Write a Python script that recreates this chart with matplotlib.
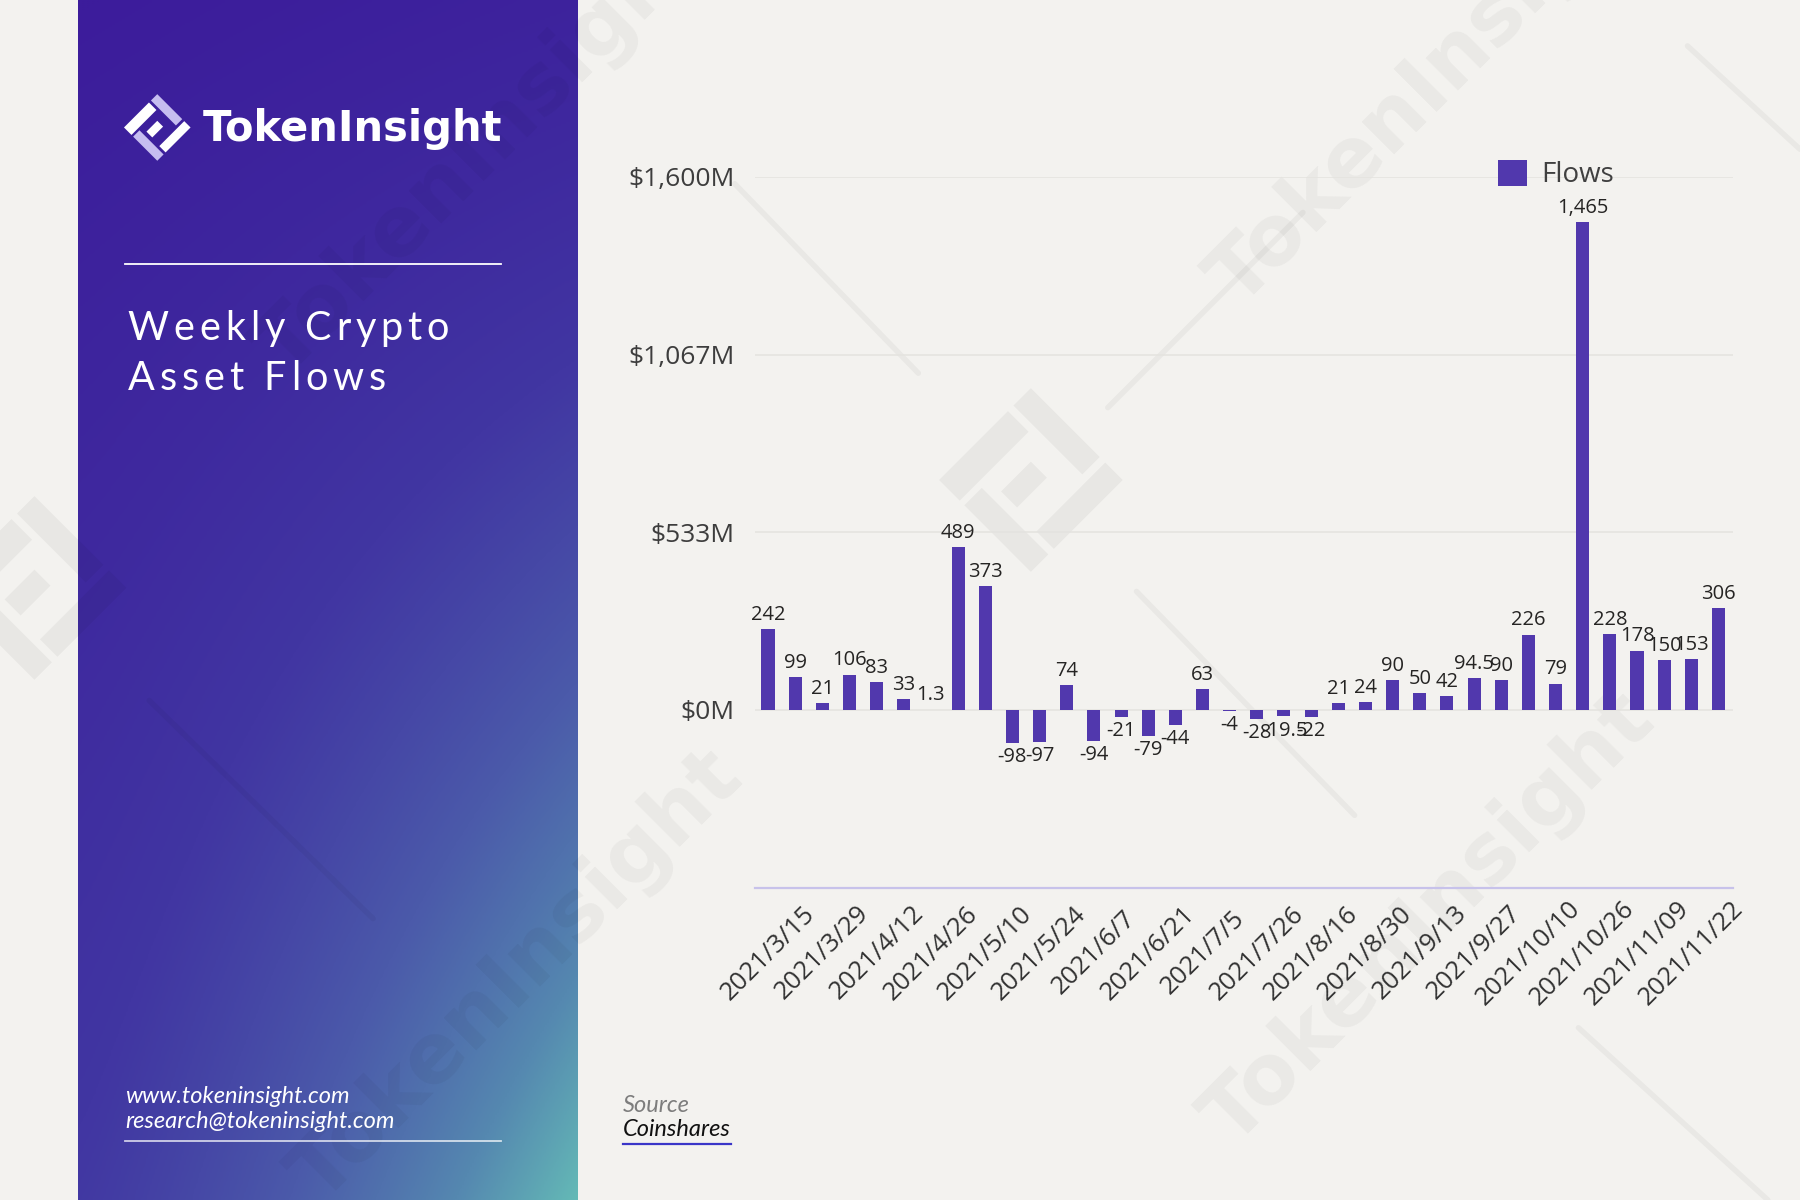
import matplotlib
matplotlib.use("Agg")
import matplotlib.pyplot as plt
import numpy as np
from matplotlib.colors import LinearSegmentedColormap
from matplotlib.patches import Polygon

# ---------------- data ----------------
flows = [242, 99, 21, 106, 83, 33, 1.3, 489, 373, -98, -97, 74, -94, -21, -79, -44,
         63, -4, -28, -19.5, -22, 21, 24, 90, 50, 42, 94.5, 90, 226, 79, 1465, 228,
         178, 150, 153, 306]
date_labels = ["2021/3/15", "2021/3/29", "2021/4/12", "2021/4/26", "2021/5/10",
               "2021/5/24", "2021/6/7", "2021/6/21", "2021/7/5", "2021/7/26",
               "2021/8/16", "2021/8/30", "2021/9/13", "2021/9/27", "2021/10/10",
               "2021/10/26", "2021/11/09", "2021/11/22"]
y_ticks = [0, 1600 / 3, 3200 / 3, 1600]
y_tick_labels = ["$0M", "$533M", "$1,067M", "$1,600M"]
y_min, y_max = -1600 / 3, 1600
series_name = "Flows"
title_lines = ["Weekly Crypto", "Asset Flows"]
brand = "TokenInsight"
contact = ["www.tokeninsight.com", "research@tokeninsight.com"]
source_label = "Source"
source_name = "Coinshares"


def fmt(v):
    return f"{int(v):,}" if float(v).is_integer() else f"{v:,.1f}"


flow_labels = [fmt(v) for v in flows]

# ---------------- style ----------------
BG = "#f3f2ef"
BAR = "#5138ad"
W, H = 1568.0, 1045.0   # layout units
CHART_FONT = ["Open Sans", "DejaVu Sans"]
PANEL_FONT = ["Lato", "DejaVu Sans"]

fig = plt.figure(figsize=(18, 12), dpi=100, facecolor=BG)
renderer = fig.canvas.get_renderer()

# overlay axes in layout units (y down)
ov = fig.add_axes([0, 0, 1, 1], zorder=0)
ov.set_xlim(0, W)
ov.set_ylim(H, 0)
ov.axis("off")
ov.set_facecolor(BG)

# ---- gradient panel ----
px0, px1 = 68, 503
nu, nv = 300, 600
u = np.linspace(0, 1, nu)[None, :]
v = np.linspace(0, 1, nv)[:, None]
t = np.clip(0.08 * u + 0.32 * v + 0.6 * (u * v) ** 1.3, 0, 1)
cmap = LinearSegmentedColormap.from_list(
    "panel", [(0, "#3c1c9b"), (0.3, "#4136a2"), (0.55, "#4b5aaa"),
              (0.8, "#5588b0"), (1.0, "#64b9b6")])
ov.imshow(t, cmap=cmap, vmin=0, vmax=1, extent=(px0, px1, H, 0),
          aspect="auto", zorder=1, interpolation="bilinear")


# ---- logo helper ----
def logo(ax, cx, cy, r, colors, alpha=1.0, z=5):
    pieces = [
        [(-1, -1), (0.5, -1), (0.5, -0.55), (-1, -0.55)],
        [(0.62, -1), (1, -1), (1, 0.5), (0.62, 0.5)],
        [(-0.5, 0.62), (1, 0.62), (1, 1), (-0.5, 1)],
        [(-1, -0.45), (-0.62, -0.45), (-0.62, 1), (-1, 1)],
        [(-0.45, -0.2), (0.2, -0.2), (0.2, 0.15), (-0.45, 0.15)],
    ]
    for i, p in enumerate(pieces):
        pts = [(cx + r * (a + b) / 2, cy + r * (b - a) / 2) for a, b in p]
        ax.add_patch(Polygon(pts, closed=True, facecolor=colors[i % len(colors)],
                             edgecolor="none", alpha=alpha, zorder=z))


# ---- watermarks ----
wm_kw = dict(rotation=45, ha="center", va="center", fontsize=60,
             fontweight="bold", family=["DejaVu Sans"], color="black",
             alpha=0.04, zorder=2)
for (wx, wy) in [(450, 850), (1245, 800), (1250, 70), (420, 130)]:
    ov.text(wx, wy, brand, **wm_kw)
logo(ov, 898, 418, 80, ["black"], alpha=0.045, z=2)
logo(ov, 30, 512, 80, ["black"], alpha=0.045, z=2)
for (xa, ya, xb, yb) in [(640, 160, 800, 325), (965, 355, 1135, 185),
                         (990, 515, 1180, 710), (130, 610, 325, 800),
                         (1470, 40, 1568, 130), (1375, 895, 1540, 1045)]:
    ov.plot([xa, xb], [ya, yb], color="black", alpha=0.04, lw=4,
            solid_capstyle="round", zorder=2)

# ---- brand ----
logo(ov, 137, 111, 29, ["white", "#c6bdf0"], z=5)
ov.text(177, 112, brand, color="white", fontsize=30, fontweight="bold",
        family=["DejaVu Sans"], ha="left", va="center", zorder=5)
ov.plot([109, 436], [230, 230], color="white", lw=1.3, zorder=5)


# ---- tracked title text ----
def tracked(ax, x, y, s, track, **kw):
    scale = W / fig.bbox.width

    def ink(p):
        tt = ax.text(0, 0, p, **kw)
        w = tt.get_window_extent(renderer).width
        tt.remove()
        return w

    bar_w = ink("|")
    for i, c in enumerate(s):
        if c == " ":
            continue
        adv = 0 if i == 0 else (ink(s[:i] + "|") - bar_w) * scale
        ax.text(x + adv + i * track, y, c, ha="left", **kw)


title_kw = dict(color="white", fontsize=28.5, family=PANEL_FONT, va="center", zorder=5)
tracked(ov, 111, 286, title_lines[0], 4.3, **title_kw)
tracked(ov, 111, 330, title_lines[1], 4.3, **title_kw)

# ---- contact ----
ov.text(109, 955, contact[0], color="white", fontsize=17, style="italic",
        family=PANEL_FONT, ha="left", va="center", zorder=5)
ov.text(109, 977, contact[1], color="white", fontsize=17, style="italic",
        family=PANEL_FONT, ha="left", va="center", zorder=5)
ov.plot([109, 436], [994, 994], color="white", alpha=0.75, lw=1.3, zorder=5)

# ---- source ----
ov.text(543, 963, source_label, color="#7d7d7d", fontsize=17, style="italic",
        family=PANEL_FONT, ha="left", va="center", zorder=5)
ov.text(543, 984, source_name, color="#111111", fontsize=17, style="italic",
        family=PANEL_FONT, ha="left", va="center", zorder=5)
ov.plot([543, 637], [996, 996], color="#3a35c8", lw=1.6, zorder=5)

# ---------------- chart ----------------
ax = fig.add_axes([658 / W, 1 - 773 / H, (1510 - 658) / W, (773 - 154) / H], zorder=3)
ax.patch.set_alpha(0)
x = np.arange(len(flows))
bars = ax.bar(x, flows, width=0.48, color=BAR, zorder=3, label=series_name)
ax.bar_label(bars, labels=flow_labels, padding=3, fontsize=14.5, color="#252423",
             family=CHART_FONT)

ax.set_xlim(-0.465, len(flows) - 1 + 0.55)
ax.set_ylim(y_min, y_max)
ax.set_yticks(y_ticks)
ax.set_yticklabels(y_tick_labels)
ax.set_xticks(x[::2])
ax.set_xticklabels(date_labels)
ax.tick_params(axis="y", length=0, pad=15, labelsize=19, labelcolor="#3d3d3d")
ax.tick_params(axis="x", length=0, pad=47, labelsize=18.5, labelcolor="#333333")
for lab in ax.get_xticklabels():
    lab.set_rotation(45)
    lab.set_ha("center")
    lab.set_va("center")
    lab.set_rotation_mode("anchor")
    lab.set_family(CHART_FONT)
for lab in ax.get_yticklabels():
    lab.set_family(CHART_FONT)

ax.grid(axis="y", color="#e4e3df", lw=1.1, zorder=0)
ax.set_axisbelow(True)
for s in ["top", "right", "left"]:
    ax.spines[s].set_visible(False)
ax.spines["bottom"].set_color("#c7c2ea")
ax.spines["bottom"].set_linewidth(1.6)

leg = ax.legend(loc="center left", bbox_to_anchor=(1305 / W, 1 - 152 / H),
                bbox_transform=fig.transFigure, frameon=False,
                handlelength=1.05, handleheight=1.05, handletextpad=0.5,
                borderpad=0, borderaxespad=0,
                prop={"family": CHART_FONT, "size": 20})
for txt in leg.get_texts():
    txt.set_color("#404040")

fig.savefig("out.png", dpi=100, facecolor=BG)
